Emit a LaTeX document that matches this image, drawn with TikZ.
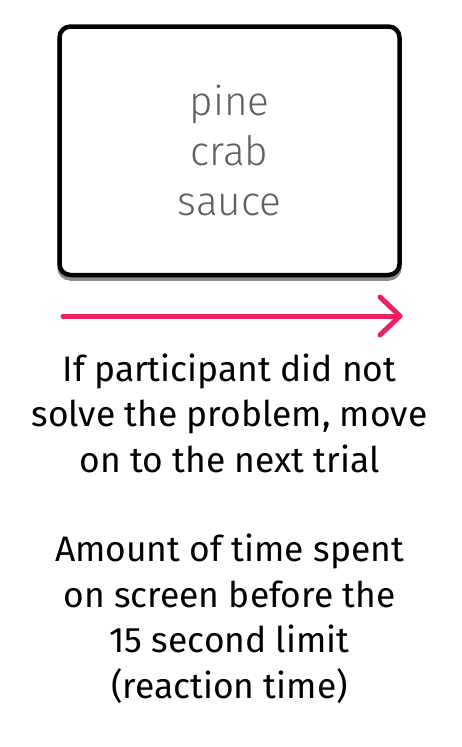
\documentclass[tikz,border=0pt]{standalone}
\usepackage{fontspec}
\setmainfont{Fira Sans}
\newfontfamily\firalight{Fira Sans Light}
\usetikzlibrary{arrows.meta}
\definecolor{arrowpink}{RGB}{238,32,96}
\definecolor{wordgray}{RGB}{96,96,96}
\definecolor{shadowgray}{RGB}{140,140,140}
\tikzset{
  screenbox/.style={draw=black, line width=4.5pt, rounded corners=11pt, fill=white},
  screenshadow/.style={draw=shadowgray, line width=4.5pt, rounded corners=11pt},
  words/.style={text=wordgray, align=center, font=\firalight\fontsize{40.5}{50}\selectfont},
  note/.style={text=black, align=center, font=\fontsize{35.4}{45.5}\selectfont},
  timeline/.style={draw=arrowpink, line width=5pt, line cap=round, line join=round}
}
\begin{document}
\begin{tikzpicture}[x=1pt,y=-1pt]
\useasboundingbox (0,0) rectangle (461,747);
\fill[white] (0,0) rectangle (461,747);
\draw[screenshadow] (59.5,30) rectangle (399.5,278.5);
\draw[screenbox] (59.5,26.5) rectangle (399.5,275);
\node[words] (wordlist) at (229.5,150) {pine\\crab\\sauce};
\coordinate (arrowstart) at (63,316);
\coordinate (arrowtip) at (400,316);
\draw[timeline] (arrowstart) -- (arrowtip);
\draw[timeline] (380,297) -- (arrowtip) -- (380,335);
\node[note] (notefail) at (229.5,413) {If participant did not\\solve the problem, move\\on to the next trial};
\node[note] (notetime) at (229.5,619) {Amount of time spent\\on screen before the\\15 second limit\\(reaction time)};
\end{tikzpicture}
\end{document}
